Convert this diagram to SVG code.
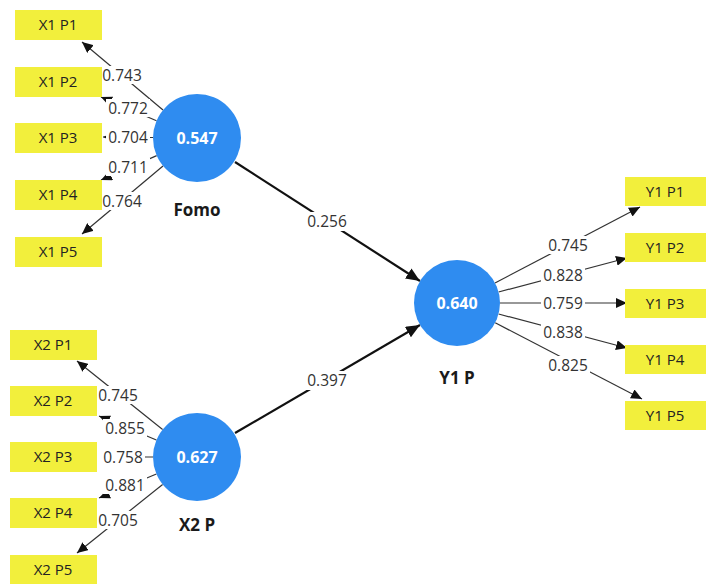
<svg xmlns="http://www.w3.org/2000/svg" width="706" height="584" viewBox="0 0 706 584">
<style>
.box{fill:#f2ef3c}
.bt{font-family:"Open Sans","Noto Sans",sans-serif;font-size:15px;font-weight:normal;fill:#222;text-anchor:middle}
.circ{fill:#2f8cf0}
.ct{font-family:"Open Sans","Noto Sans",sans-serif;font-size:16px;font-weight:bold;fill:#ffffff;text-anchor:middle}
.nl{font-family:"Open Sans","Noto Sans",sans-serif;font-size:17px;font-weight:bold;fill:#1a1a1a;text-anchor:middle}
.ld{stroke:#333;stroke-width:1.2;fill:none;marker-end:url(#ah)}
.pc{stroke:#111;stroke-width:2.2;fill:none;marker-end:url(#ahb)}
.lb{fill:#fff}
.lt{font-family:"Open Sans","Noto Sans",sans-serif;font-size:15.5px;fill:#333;text-anchor:middle}
</style>
<defs>
<marker id="ah" markerUnits="userSpaceOnUse" markerWidth="11" markerHeight="10" refX="11" refY="5" orient="auto">
<path d="M0,0 L11,5 L0,10 z" fill="#111"/>
</marker>
<marker id="ahb" markerUnits="userSpaceOnUse" markerWidth="14" markerHeight="12" refX="14" refY="6" orient="auto">
<path d="M0,0 L14,6 L0,12 z" fill="#111"/>
</marker>
</defs>
<g id="connectors">
<line class="ld" x1="163" y1="110" x2="82" y2="42"/>
<line class="ld" x1="156.5" y1="120.7" x2="101" y2="97"/>
<line class="ld" x1="153" y1="137.5" x2="103" y2="137"/>
<line class="ld" x1="156.7" y1="155.6" x2="101" y2="180"/>
<line class="ld" x1="163" y1="166" x2="82" y2="234"/>
<line class="ld" x1="162.6" y1="429.5" x2="77" y2="361"/>
<line class="ld" x1="156.4" y1="440" x2="99" y2="416"/>
<line class="ld" x1="153" y1="457" x2="101" y2="457"/>
<line class="ld" x1="156.4" y1="474" x2="99" y2="498"/>
<line class="ld" x1="162.6" y1="484.5" x2="77" y2="553"/>
<line class="ld" x1="495" y1="283" x2="640" y2="207"/>
<line class="ld" x1="498.6" y1="292" x2="627" y2="258"/>
<line class="ld" x1="500" y1="303" x2="627" y2="303"/>
<line class="ld" x1="498.6" y1="314" x2="627" y2="348"/>
<line class="ld" x1="495.2" y1="322.8" x2="642" y2="399"/>
<line class="pc" x1="235" y1="162" x2="420" y2="281"/>
<line class="pc" x1="235" y1="433" x2="420" y2="325"/>
<g id="labels">
<rect class="lb" x="100" y="66" width="44" height="18"/><text class="lt" x="122" y="81">0.743</text>
<rect class="lb" x="106" y="99" width="44" height="18"/><text class="lt" x="128" y="114">0.772</text>
<rect class="lb" x="106" y="128" width="44" height="18"/><text class="lt" x="128" y="143">0.704</text>
<rect class="lb" x="106" y="158" width="44" height="18"/><text class="lt" x="128" y="173">0.711</text>
<rect class="lb" x="100" y="192" width="44" height="18"/><text class="lt" x="122" y="207">0.764</text>
<rect class="lb" x="96" y="386" width="44" height="18"/><text class="lt" x="118" y="401">0.745</text>
<rect class="lb" x="103" y="419" width="44" height="18"/><text class="lt" x="125" y="434">0.855</text>
<rect class="lb" x="101" y="448" width="44" height="18"/><text class="lt" x="123" y="463">0.758</text>
<rect class="lb" x="103" y="476" width="44" height="18"/><text class="lt" x="125" y="491">0.881</text>
<rect class="lb" x="96" y="511" width="44" height="18"/><text class="lt" x="118" y="526">0.705</text>
<rect class="lb" x="546" y="236" width="44" height="18"/><text class="lt" x="568" y="251">0.745</text>
<rect class="lb" x="541" y="266" width="44" height="18"/><text class="lt" x="563" y="281">0.828</text>
<rect class="lb" x="541" y="294" width="44" height="18"/><text class="lt" x="563" y="309">0.759</text>
<rect class="lb" x="541" y="323" width="44" height="18"/><text class="lt" x="563" y="338">0.838</text>
<rect class="lb" x="546" y="356" width="44" height="18"/><text class="lt" x="568" y="371">0.825</text>
<rect class="lb" x="303" y="212" width="48" height="19"/><text class="lt" x="327" y="227">0.256</text>
<rect class="lb" x="303" y="371" width="48" height="19"/><text class="lt" x="327" y="386">0.397</text>
</g>
</g>
<g id="Fomo"><circle class="circ" cx="197" cy="138" r="44"/><text class="ct" x="197" y="144">0.547</text><text class="nl" x="197" y="216">Fomo</text></g>
<g id="X2P"><circle class="circ" cx="197" cy="457" r="44"/><text class="ct" x="197" y="463">0.627</text><text class="nl" x="197" y="531">X2 P</text></g>
<g id="Y1P"><circle class="circ" cx="457" cy="303" r="43"/><text class="ct" x="457" y="309">0.640</text><text class="nl" x="457" y="384">Y1 P</text></g>
<g id="X1P1"><rect class="box" x="15" y="10" width="87" height="30"/><text class="bt" x="58" y="30">X1 P1</text></g>
<g id="X1P2"><rect class="box" x="15" y="67" width="87" height="30"/><text class="bt" x="58" y="87">X1 P2</text></g>
<g id="X1P3"><rect class="box" x="15" y="123" width="87" height="30"/><text class="bt" x="58" y="143">X1 P3</text></g>
<g id="X1P4"><rect class="box" x="15" y="180" width="87" height="30"/><text class="bt" x="58" y="200">X1 P4</text></g>
<g id="X1P5"><rect class="box" x="15" y="237" width="87" height="30"/><text class="bt" x="58" y="257">X1 P5</text></g>
<g id="X2P1"><rect class="box" x="10" y="330" width="87" height="30"/><text class="bt" x="53" y="350">X2 P1</text></g>
<g id="X2P2"><rect class="box" x="10" y="386" width="87" height="30"/><text class="bt" x="53" y="406">X2 P2</text></g>
<g id="X2P3"><rect class="box" x="10" y="442" width="87" height="30"/><text class="bt" x="53" y="462">X2 P3</text></g>
<g id="X2P4"><rect class="box" x="10" y="498" width="87" height="30"/><text class="bt" x="53" y="518">X2 P4</text></g>
<g id="X2P5"><rect class="box" x="10" y="555" width="87" height="29"/><text class="bt" x="53" y="575">X2 P5</text></g>
<g id="Y1P1"><rect class="box" x="625" y="177" width="81" height="29"/><text class="bt" x="665" y="197">Y1 P1</text></g>
<g id="Y1P2"><rect class="box" x="625" y="233" width="81" height="29"/><text class="bt" x="665" y="253">Y1 P2</text></g>
<g id="Y1P3"><rect class="box" x="625" y="289" width="81" height="29"/><text class="bt" x="665" y="309">Y1 P3</text></g>
<g id="Y1P4"><rect class="box" x="625" y="345" width="81" height="29"/><text class="bt" x="665" y="365">Y1 P4</text></g>
<g id="Y1P5"><rect class="box" x="625" y="401" width="81" height="29"/><text class="bt" x="665" y="421">Y1 P5</text></g>
</svg>
